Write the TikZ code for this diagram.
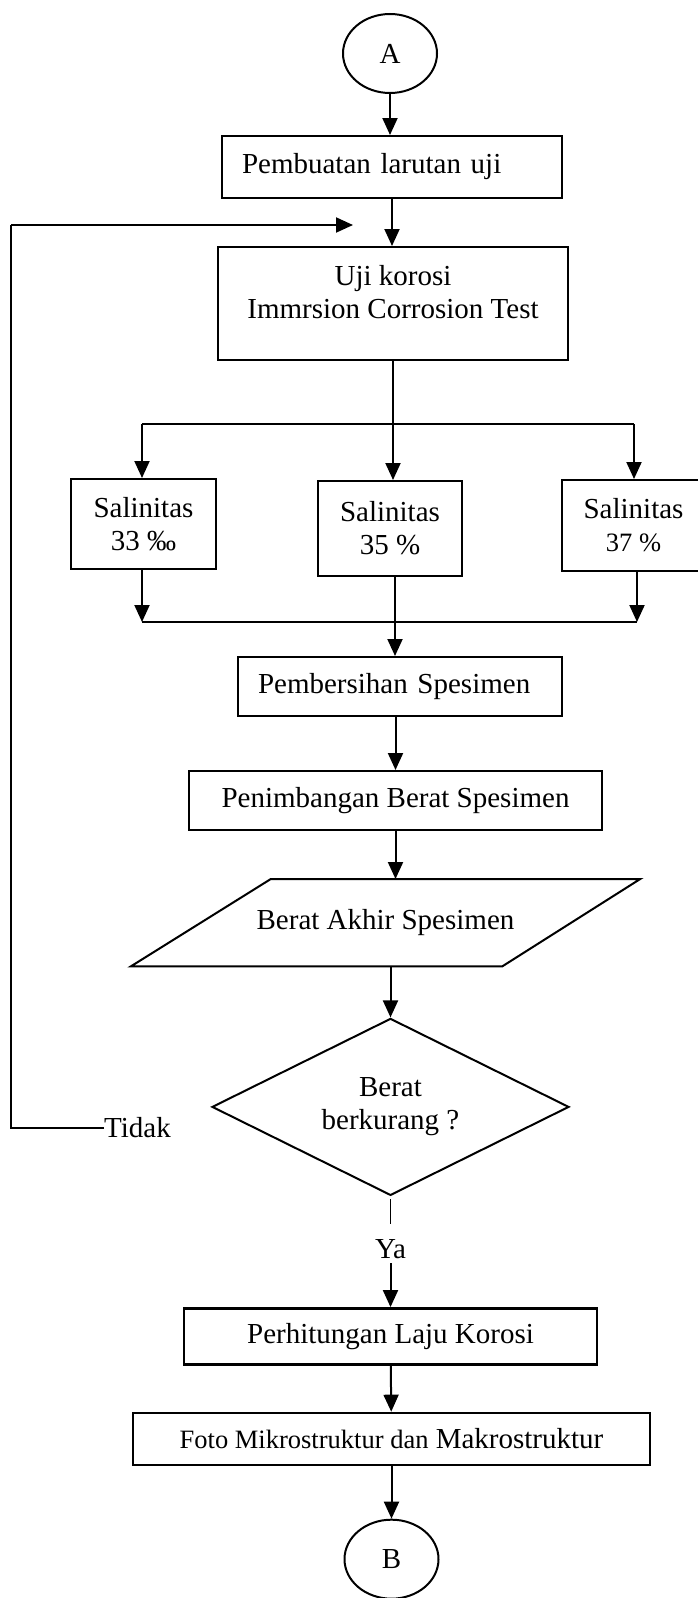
\documentclass[tikz,border=0pt]{standalone}
\usepackage{fontspec}
\setmainfont{Liberation Serif}
\usepackage{tikz}
\usetikzlibrary{arrows.meta, positioning, shapes.geometric}
\newcommand{\mainsize}{\fontsize{29}{33}\selectfont}
\newcommand{\smallsize}{\fontsize{26.5}{30}\selectfont}

\begin{document}
\begin{tikzpicture}[
  x=1pt, y=1pt,
  font=\mainsize,
  proc/.style={draw, line width=2pt, text centered},
  term/.style={draw, ellipse, line width=2pt, minimum width=94pt, minimum height=79pt},
  io/.style={minimum width=509pt, minimum height=87pt},
  decide/.style={draw, diamond, aspect=2, line width=2pt, align=center, minimum width=357pt, minimum height=177pt},
  arrow/.style={-{Triangle[length=17pt,width=15pt]}, line width=2pt},
  line/.style={line width=2pt},
  thinline/.style={line width=1.2pt}
]
\useasboundingbox (0,0) rectangle (698,-1598);

\node[term] (A) at (390,-53.5) {A};
\node[proc, below=41pt of A, xshift=2pt, text width=300pt, align=left, inner xsep=20pt,
      minimum height=62pt] (larutan) {Pembuatan larutan uji};
\node[proc, below=47pt of larutan, xshift=1pt, minimum width=350pt, minimum height=113pt] (uji) {};
\node[align=center] (ujitxt) at ([yshift=11pt]uji.center) {Uji korosi\\Immrsion Corrosion Test};

\node[proc, below=119pt of uji, xshift=-3pt, align=center, minimum width=144pt,
      minimum height=95pt] (sal35) {Salinitas\\35 \%};
\node[proc, left=100pt of sal35, yshift=4.5pt, align=center, minimum width=145pt,
      minimum height=90pt] (sal33) {Salinitas\\33 ‰};
\node[proc, right=98pt of sal35, yshift=3pt, align=center, minimum width=143pt,
      minimum height=91pt] (sal37) {Salinitas\\{\smallsize 37 \%}};

\node[proc, below=79pt of sal35, xshift=10pt, text width=284pt, align=left, inner xsep=20pt,
      minimum height=59pt] (bersih) {Pembersihan Spesimen};
\node[proc, below=53pt of bersih, xshift=-4.5pt, minimum width=413pt, minimum height=59pt] (timbang) {Penimbangan Berat Spesimen};
\node[io, below=48pt of timbang, xshift=-10pt] (akhir) {Berat Akhir Spesimen};
\draw[line] (akhir.south west) -- ([xshift=140pt]akhir.north west) -- (akhir.north east)
  -- ([xshift=-138pt]akhir.south east) -- cycle;
\node[decide, below=51pt of akhir, xshift=5pt] (cek) {Berat\\berkurang ?};
\node[below=39pt of cek, inner sep=4pt] (ya) {Ya};
\node[proc, line width=2.6pt, below=44pt of ya, minimum width=413pt, minimum height=56pt] (hitung) {Perhitungan Laju Korosi};
\node[proc, below=46pt of hitung, xshift=1pt, minimum width=517pt, minimum height=52pt] (foto)
  {{\smallsize Foto Mikrostruktur dan} Makrostruktur};
\node[term, below=53pt of foto] (B) {B};

\node[anchor=west, inner sep=0pt] (tidak) at (104,-1128) {Tidak};

% branch and merge points
\coordinate (spL) at (142,-424);
\coordinate (spR) at (634,-424);
\coordinate (mgL) at (142,-622);
\coordinate (mgR) at (637,-622);
\coordinate (corner) at (11,-225);
\coordinate (loopin) at (353,-225);

\draw[arrow] (A.south) -- (A.south |- larutan.north);
\draw[arrow] (larutan.south) -- (larutan.south |- uji.north);
\draw[arrow] (uji.south) -- (uji.south |- sal35.north);
\draw[line] (spL) -- (spR);
\draw[arrow] (spL) -- (spL |- sal33.north);
\draw[arrow] (spR) -- (spR |- sal37.north);
\draw[arrow] (sal33.south -| mgL) -- (mgL);
\draw[arrow] (sal37.south -| mgR) -- (mgR);
\draw[line] (mgL) -- (mgR);
\draw[arrow] ([xshift=5pt]sal35.south) -- ([xshift=5pt]sal35.south |- bersih.north);
\draw[arrow] (timbang.north |- bersih.south) -- (timbang.north);
\draw[arrow] (timbang.south) -- (timbang.south |- akhir.north);
\draw[arrow] (akhir.south -| cek.north) -- (cek.north);
\draw[thinline, shorten <=3pt, shorten >=11pt] (cek) -- (ya);
\draw[arrow] (ya) -- (hitung);
\draw[arrow] (hitung) -- (foto);
\draw[arrow] (foto) -- (B);

% back loop
\draw[thinline] (tidak.west) -| (corner);
\draw[arrow] (corner) -- (loopin);
\end{tikzpicture}
\end{document}
